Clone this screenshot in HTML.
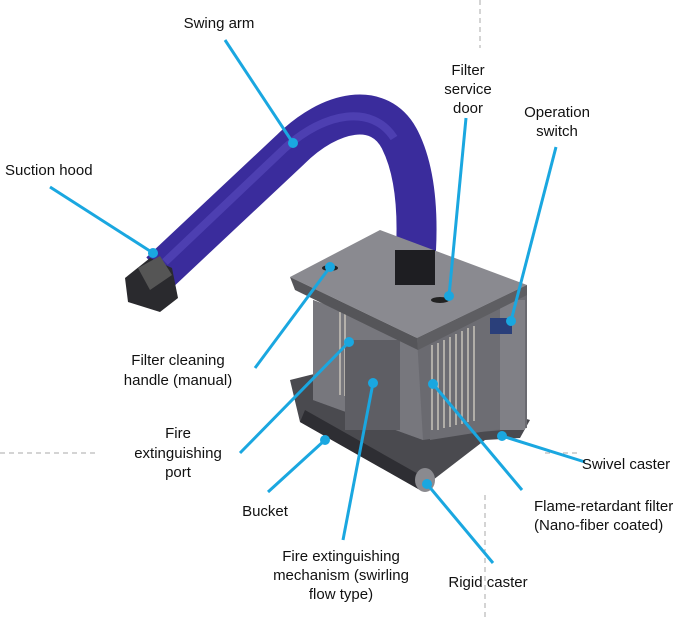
<!DOCTYPE html>
<html><head><meta charset="utf-8"><style>
html,body{margin:0;padding:0;background:#fff;}
svg{display:block;}
text{font-family:"Liberation Sans",Arial,sans-serif;font-size:15px;fill:#111;}
</style></head><body>
<svg width="697" height="617" viewBox="0 0 697 617" xmlns="http://www.w3.org/2000/svg">
<g stroke="#aaa" stroke-width="1" stroke-dasharray="5,4" fill="none">
<line x1="480" y1="0" x2="480" y2="48"/>
<line x1="485" y1="495" x2="485" y2="617"/>
<line x1="0" y1="453" x2="95" y2="453"/>
<line x1="545" y1="453" x2="580" y2="453"/>
</g>
<!-- hose -->
<path d="M160,272 L290,150 C330,110 380,100 400,140 C415,170 418,210 416,250" stroke="#3a2c9c" stroke-width="40" fill="none" stroke-linecap="butt"/>
<path d="M165,262 L285,148 C325,112 372,104 394,138" stroke="#5a4cc0" stroke-width="8" fill="none" opacity="0.6"/>
<!-- hood -->
<polygon points="125,278 150,258 172,268 178,298 160,312 128,302" fill="#2a2a2e"/>
<polygon points="138,268 160,256 172,275 150,290" fill="#555"/>
<!-- base tray -->
<polygon points="290,380 300,422 420,490 485,440 520,438 530,420 480,405 330,370" fill="#4a4a4f"/>
<polygon points="300,422 420,490 420,475 305,410" fill="#2e2e33"/>
<!-- body -->
<polygon points="313,300 417,338 527,285 527,428 480,432 423,440 313,400" fill="#6a6a70"/>
<polygon points="313,300 417,338 423,440 313,400" fill="#77777d"/>
<polygon points="430,335 525,290 525,425 430,440" fill="#6d6d73"/>
<g stroke="#c8c4ba" stroke-width="1.5">
<line x1="432" y1="345" x2="432" y2="430"/><line x1="438" y1="343" x2="438" y2="430"/><line x1="444" y1="340" x2="444" y2="428"/><line x1="450" y1="337" x2="450" y2="427"/><line x1="456" y1="334" x2="456" y2="425"/><line x1="462" y1="331" x2="462" y2="424"/><line x1="468" y1="328" x2="468" y2="422"/><line x1="474" y1="326" x2="474" y2="421"/>
<line x1="340" y1="312" x2="340" y2="395"/><line x1="345" y1="314" x2="345" y2="396"/>
</g>
<rect x="345" y="340" width="55" height="90" fill="#5e5e64"/>
<rect x="500" y="300" width="25" height="130" fill="#808086"/>
<rect x="490" y="318" width="22" height="16" fill="#2a3f7a"/>
<!-- lid -->
<polygon points="290,277 380,230 527,285 417,338" fill="#8a8a90"/>
<polygon points="290,277 417,338 418,350 295,290" fill="#555559"/>
<polygon points="417,338 527,285 527,295 418,350" fill="#5e5e62"/>
<rect x="395" y="250" width="40" height="35" fill="#1e1e22"/>
<ellipse cx="330" cy="268" rx="8" ry="3" fill="#222"/>
<ellipse cx="440" cy="300" rx="9" ry="3" fill="#222"/>
<!-- caster -->
<ellipse cx="425" cy="480" rx="10" ry="12" fill="#8a8a8f"/>
<!-- leaders -->
<g stroke="#1aa7e0" stroke-width="3" fill="none">
<line x1="225" y1="40" x2="293" y2="143"/>
<line x1="50" y1="187" x2="153" y2="253"/>
<line x1="466" y1="118" x2="449" y2="296"/>
<line x1="556" y1="147" x2="511" y2="321"/>
<line x1="255" y1="368" x2="330" y2="267"/>
<line x1="240" y1="453" x2="349" y2="342"/>
<line x1="268" y1="492" x2="325" y2="440"/>
<line x1="343" y1="540" x2="373" y2="383"/>
<line x1="493" y1="563" x2="427" y2="484"/>
<line x1="522" y1="490" x2="433" y2="384"/>
<line x1="585" y1="462" x2="502" y2="436"/>
</g>
<g fill="#1aa7e0">
<circle cx="293" cy="143" r="5"/><circle cx="153" cy="253" r="5"/><circle cx="449" cy="296" r="5"/><circle cx="511" cy="321" r="5"/><circle cx="330" cy="267" r="5"/><circle cx="349" cy="342" r="5"/><circle cx="325" cy="440" r="5"/><circle cx="373" cy="383" r="5"/><circle cx="427" cy="484" r="5"/><circle cx="433" cy="384" r="5"/><circle cx="502" cy="436" r="5"/>
</g>
<!-- labels -->
<g text-anchor="middle">
<text x="219" y="28">Swing arm</text>
<text x="468" y="75">Filter</text><text x="468" y="94">service</text><text x="468" y="113">door</text>
<text x="557" y="117">Operation</text><text x="557" y="136">switch</text>
<text x="178" y="365">Filter cleaning</text><text x="178" y="385">handle (manual)</text>
<text x="178" y="438">Fire</text><text x="178" y="458">extinguishing</text><text x="178" y="477">port</text>
<text x="265" y="516">Bucket</text>
<text x="341" y="561">Fire extinguishing</text><text x="341" y="580">mechanism (swirling</text><text x="341" y="599">flow type)</text>
<text x="488" y="587">Rigid caster</text>
<text x="626" y="469">Swivel caster</text>
</g>
<text x="5" y="175">Suction hood</text>
<text x="534" y="511">Flame-retardant filter</text>
<text x="534" y="530">(Nano-fiber coated)</text>
</svg>
</body></html>
